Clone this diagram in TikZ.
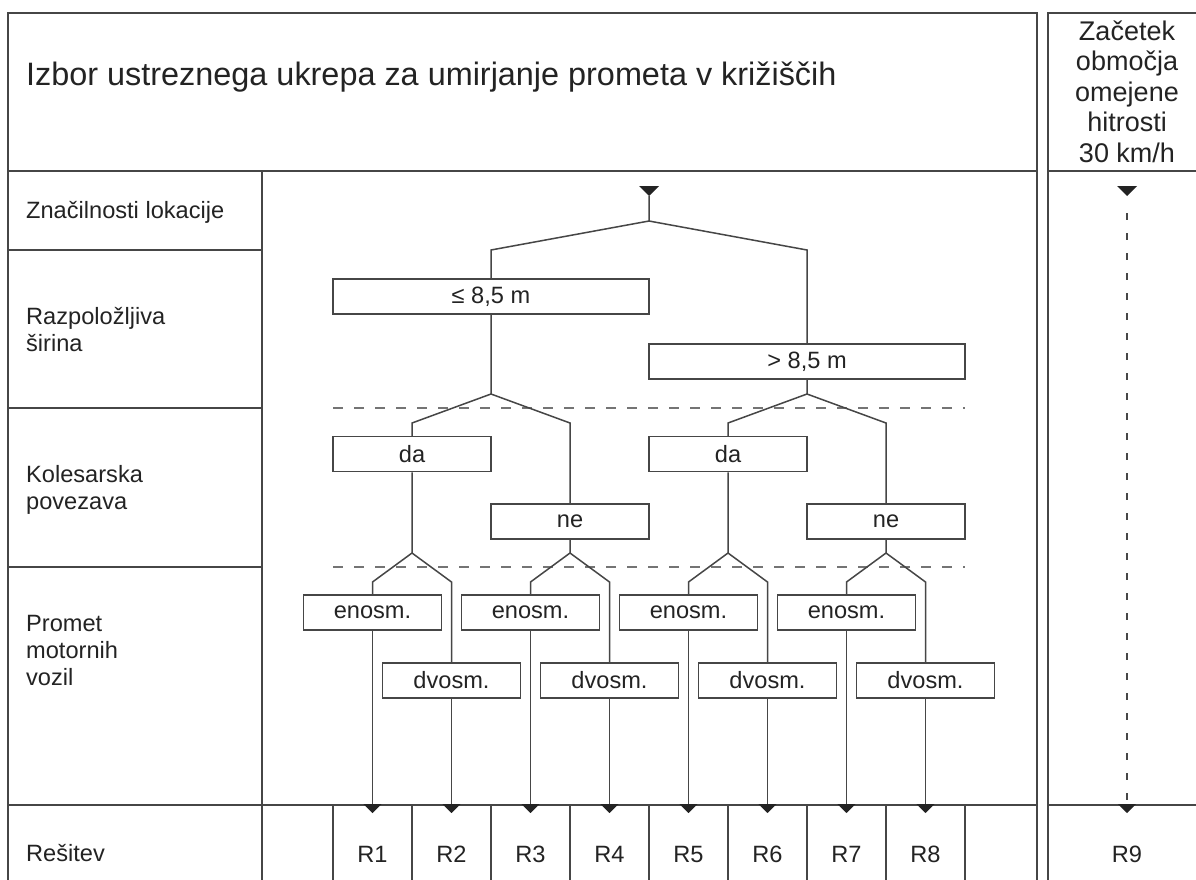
\documentclass[tikz,border=0pt]{standalone}
\usepackage{fontspec}
\setmainfont{Liberation Sans}
\usetikzlibrary{arrows.meta}
\definecolor{ln}{RGB}{70,70,70}
\definecolor{tx}{RGB}{35,35,35}
\begin{document}
\begin{tikzpicture}[x=1pt,y=-1pt,
  frame/.style={draw=ln,line width=1.8pt},
  conn/.style={draw=ln,line width=1.5pt},
  sep/.style={draw=ln!75,line width=1.3pt,dash pattern=on 10pt off 11pt},
  vdash/.style={draw=ln,line width=1.3pt,dash pattern=on 7pt off 13pt,dash phase=13pt},
  lbl/.style={text=tx,font=\fontsize{23.6}{27}\selectfont,align=left,anchor=base west,inner sep=0pt},
  choice/.style={draw=ln,line width=1.5pt,fill=white,text=tx,font=\fontsize{23.6}{27}\selectfont,inner sep=0pt,minimum height=35pt},
  wide/.style={choice,minimum width=316pt},
  mid/.style={choice,minimum width=158pt},
  small/.style={choice,minimum width=138pt},
  res/.style={text=tx,font=\fontsize{23.6}{27}\selectfont,anchor=base,inner sep=0pt},
  tip/.style={-{Triangle[length=9pt,width=18pt,color=tx]}},
]
\useasboundingbox (0,0) rectangle (1196,879);
\fill[white] (0,0) rectangle (1196,879);

% helper y levels
\coordinate (y250) at (0,250);
\coordinate (y394) at (0,394);
\coordinate (y423) at (0,423);
\coordinate (y553) at (0,553);
\coordinate (y582) at (0,582);
\coordinate (ybot) at (0,813);

% frame
\draw[frame] (8,890) -- (8,13) -- (1037,13) -- (1037,890);
\draw[frame] (1048,890) -- (1048,13) -- (1210,13);
\draw[frame] (8,171) -- (1037,171);
\draw[frame] (1048,171) -- (1210,171);
\draw[frame] (262,171) -- (262,890);
\foreach \yy in {250,408,567} \draw[frame] (8,\yy) -- (262,\yy);
\draw[frame] (8,805) -- (1037,805);
\draw[frame] (1048,805) -- (1210,805);
\foreach \xx in {333,412,491,570,649,728,807,886,965} \draw[frame] (\xx,805) -- (\xx,890);
\draw[sep] (333,408) -- (965,408);
\draw[sep] (333,567) -- (965,567);

% texts
\node[text=tx,font=\fontsize{32.4}{38}\selectfont,anchor=base west,inner sep=0pt] (title) at (26,85)
  {Izbor ustreznega ukrepa za umirjanje prometa v križiščih};
\node[text=tx,font=\fontsize{27}{30.5}\selectfont,align=center,anchor=base,inner sep=0pt] (zone) at (1127,162)
  {Začetek\\območja\\omejene\\hitrosti\\30 km/h};
\node[lbl] (l1) at (26,218) {Značilnosti lokacije};
\node[lbl] (l2) at (26,351) {Razpoložljiva\\širina};
\node[lbl] (l3) at (26,509) {Kolesarska\\povezava};
\node[lbl] (l4) at (26,685) {Promet\\motornih\\vozil};
\node[lbl] (l5) at (26,861) {Rešitev};

% decision boxes
\node[wide] (le) at (491,296.5) {≤ 8,5 m};
\node[wide] (gt) at (807,361.5) {> 8,5 m};
\node[mid] (da1) at (412,454) {da};
\node[mid] (ne1) at (570,521.5) {ne};
\node[mid] (da2) at (728,454) {da};
\node[mid] (ne2) at (886,521.5) {ne};
\foreach \i/\x in {1/372.5,2/530.5,3/688.5,4/846.5}
  \node[small] (en\i) at (\x,612.5) {enosm.};
\foreach \i/\x in {1/451.5,2/609.5,3/767.5,4/925.5}
  \node[small] (dv\i) at (\x,680.5) {dvosm.};

% results
\foreach \i/\x in {1/372.5,2/451.5,3/530.5,4/609.5,5/688.5,6/767.5,7/846.5,8/925.5}
  \node[res] (r\i) at (\x,862) {R\i};
\node[res] (r9) at (1127,862) {R9};

% start markers
\coordinate (start) at (649,196);
\coordinate (s0) at (649,221);
\fill[tx] (start) ++(-10,-10) -- ++(20,0) -- ++(-10,10) -- cycle;
\coordinate (zstart) at (1127,196);
\coordinate (zline) at (1127,206);
\fill[tx] (zstart) ++(-10,-10) -- ++(20,0) -- ++(-10,10) -- cycle;
\draw[vdash,tip] (zline) -- (zline |- ybot);

% tree connectors
\draw[conn] (start) -- (s0) -- (le.north |- y250) -- (le.north);
\draw[conn] (s0) -- (gt.north |- y250) -- (gt.north);
\foreach \p/\a/\b in {le/da1/ne1,gt/da2/ne2}{
  \coordinate (s\p) at (\p.south |- y394);
  \draw[conn] (\p.south) -- (s\p) -- (\a.north |- y423) -- (\a.north);
  \draw[conn] (s\p) -- (\b.north |- y423) -- (\b.north);
}
\foreach \p/\k in {da1/1,ne1/2,da2/3,ne2/4}{
  \coordinate (t\k) at (\p.south |- y553);
  \draw[conn] (\p.south) -- (t\k) -- (en\k.north |- y582) -- (en\k.north);
  \draw[conn] (t\k) -- (dv\k.north |- y582) -- (dv\k.north);
  \draw[conn,tip] (en\k.south) -- (en\k.south |- ybot);
  \draw[conn,tip] (dv\k.south) -- (dv\k.south |- ybot);
}
\end{tikzpicture}
\end{document}
